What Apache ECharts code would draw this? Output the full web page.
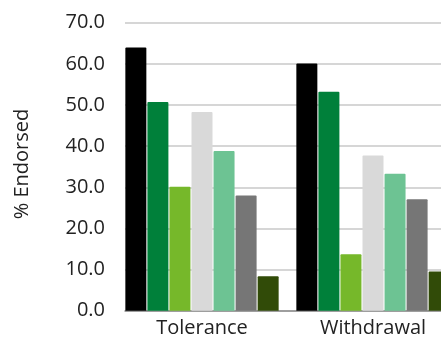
<!DOCTYPE html>
<html>
<head>
<meta charset="utf-8">
<script src="https://cdn.jsdelivr.net/npm/echarts@6/dist/echarts.min.js"></script>
<style>
  html, body { margin: 0; padding: 0; background: #fff; overflow: hidden; }
  #chart { width: 460px; height: 339px; }
</style>
</head>
<body>
<div id="chart"></div>
<script>
// Symptom categories along the x axis
const categories = ['Tolerance', 'Withdrawal'];

// Percent endorsed, one array per group (same order as categories)
const group1 = [64.0, 60.1];
const group2 = [50.7, 53.2];
const group3 = [30.1, 13.7];
const group4 = [48.3, 37.7];
const group5 = [38.8, 33.3];
const group6 = [28.0, 27.1];
const group7 = [8.4, 9.5];

const groupNames = ['Group 1', 'Group 2', 'Group 3', 'Group 4', 'Group 5', 'Group 6', 'Group 7'];
const groupValues = [group1, group2, group3, group4, group5, group6, group7];
const groupColors = ['#000000', '#00803a', '#76b82a', '#d9d9d9', '#6dc393', '#767676', '#314b08'];

// Value axis ticks
const yMin = 0, yMax = 70, yStep = 10;

const font = '"Open Sans", Lato, sans-serif';
const plotTop = 22.7;
const plotHeight = 288;

const chart = echarts.init(document.getElementById('chart'), null, { renderer: 'canvas' });

const series = groupValues.map((vals, i) => ({
  name: groupNames[i],
  type: 'bar',
  xAxisIndex: 1,
  yAxisIndex: 1,
  data: vals,
  barWidth: 21,
  barGap: '5%',
  itemStyle: { color: groupColors[i], borderRadius: [1, 1, 0, 0] }
}));

chart.setOption({
  animation: false,
  backgroundColor: '#ffffff',
  grid: [
    // frame: gridlines, value labels, base line
    { left: 125, top: plotTop, width: 335, height: plotHeight },
    // bars and category labels
    { left: 116.5, top: plotTop, width: 342, height: plotHeight }
  ],
  xAxis: [
    {
      gridIndex: 0, type: 'category', data: categories,
      axisLine: { show: true, lineStyle: { color: '#8c8c8c', width: 1.5 } },
      axisTick: { show: false }, axisLabel: { show: false }
    },
    {
      gridIndex: 1, type: 'category', data: categories,
      axisLine: { show: false }, axisTick: { show: false },
      axisLabel: { color: '#222', fontSize: 20, fontFamily: font, margin: 8 }
    }
  ],
  yAxis: [
    {
      gridIndex: 0, type: 'value', min: yMin, max: yMax, interval: yStep,
      axisLine: { show: false }, axisTick: { show: false },
      axisLabel: { color: '#222', fontSize: 20, fontFamily: font, margin: 20,
        formatter: v => v.toFixed(1) },
      splitLine: { lineStyle: { color: '#c8c8c8', width: 1.5 } }
    },
    {
      gridIndex: 1, type: 'value', min: yMin, max: yMax, interval: yStep,
      show: false
    }
  ],
  graphic: [{
    type: 'text',
    x: 22, y: 164,
    rotation: Math.PI / 2,
    style: {
      text: '% Endorsed',
      fill: '#222',
      font: '20px ' + font,
      textAlign: 'center',
      textVerticalAlign: 'middle'
    }
  }],
  series: series
});
</script>
</body>
</html>
